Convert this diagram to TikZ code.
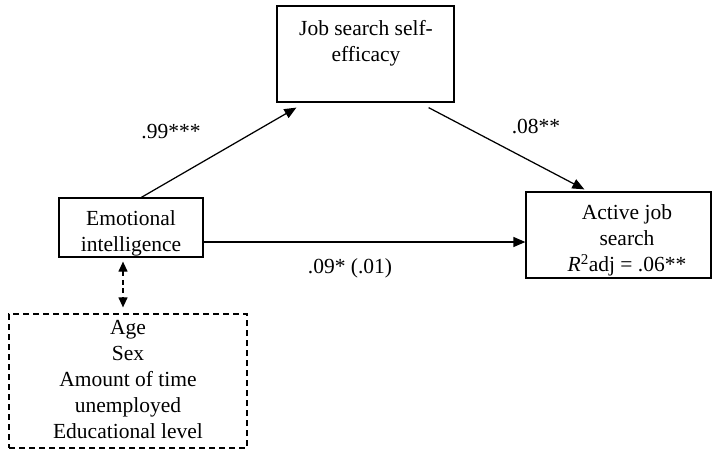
\documentclass[tikz,border=0pt]{standalone}
\usepackage{fontspec}
\setmainfont{Liberation Serif}
\usetikzlibrary{arrows.meta,fit}
\begin{document}
\begin{tikzpicture}[x=1pt,y=-1pt,
  boxs/.style={draw, line width=1.25pt, inner sep=0pt},
  dbox/.style={draw, line width=1.25pt, inner sep=0pt, dash pattern=on 6pt off 4pt},
  txt/.style={font=\fontsize{21.5}{26}\selectfont, align=center, inner sep=0pt, anchor=north},
  lab/.style={font=\fontsize{21.5}{26}\selectfont, inner sep=0pt, anchor=base},
  arr/.style={line width=1.25pt, -{Triangle[length=12pt,width=10pt]}},
  darr/.style={line width=1.25pt, dash pattern=on 5pt off 3.5pt, {Triangle[length=10pt,width=9pt]}-{Triangle[length=10pt,width=9pt]}}
]
\useasboundingbox (0,0) rectangle (712,452);
% boxes
\node[boxs, fit={(277,6) (454,102)}] (se) {};
\node[boxs, fit={(59,198) (203,257)}] (ei) {};
\node[boxs, fit={(526,192) (711,278)}] (ajs) {};
\node[dbox, fit={(9,314) (247,448)}] (ctrl) {};
% texts
\node[txt] (setxt) at (366,20.5) {Job search self-\\efficacy};
\node[txt] (eitxt) at (131,210.5) {Emotional\\intelligence};
\node[txt] (ajstxt) at (627,204.5) {Active job\\search\\\textit{R}\textsuperscript{2}adj = .06**};
\node[txt] (ctrltxt) at (128,320.5) {Age\\Sex\\Amount of time\\unemployed\\Educational level};
% connectors
\draw[arr] ([xshift=83pt]ei.north west) -- ([xshift=20pt,yshift=-5pt]se.south west);
\draw[arr] ([xshift=-26pt,yshift=-5pt]se.south east) -- ([xshift=59pt,yshift=2pt]ajs.north west);
\draw[arr] ([yshift=-14.5pt]ei.east) -- ([yshift=-14.5pt]ei.east -| ajs.west);
\draw[darr] ([xshift=-8pt,yshift=-4pt]ei.south) -- ([xshift=-8pt,yshift=6pt]ei.south |- ctrl.north);
% labels
\node[lab] (l1) at (171,138) {.99***};
\node[lab] (l2) at (536,133) {.08**};
\node[lab] (l3) at (350,273) {.09* (.01)};
\end{tikzpicture}
\end{document}
